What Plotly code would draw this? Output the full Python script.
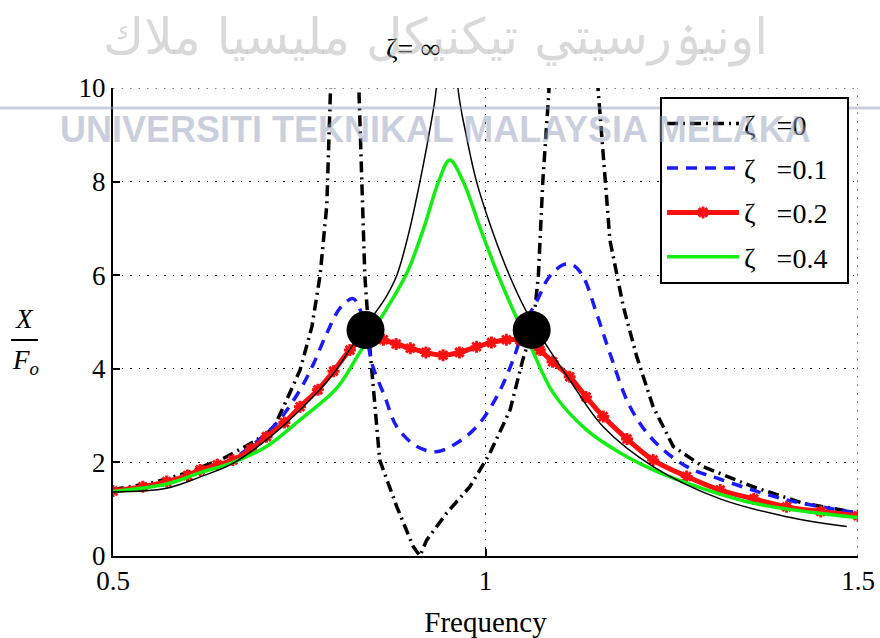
import plotly.graph_objects as go

# ---- data ----
# zeta = 0 (undamped absorber)
x_z0 = [0.50, 0.55, 0.60, 0.65, 0.69, 0.715, 0.733, 0.751, 0.767, 0.778, 0.787, 0.793, 0.800, 0.812,
        0.822, 0.830, 0.838, 0.845, 0.858, 0.881, 0.903, 0.912, 0.921, 0.948, 0.979, 1.006, 1.033,
        1.050, 1.064, 1.071, 1.077, 1.085, 1.095, 1.118, 1.140, 1.151, 1.160, 1.167, 1.185, 1.203,
        1.225, 1.252, 1.292, 1.359, 1.426, 1.50]
y_z0 = [1.42, 1.55, 1.78, 2.10, 2.45, 2.72, 3.33, 3.97, 4.90, 6.00, 7.50, 10.0, 14.0, 40.0,
        16.0, 10.0, 6.00, 4.40, 2.05, 1.05, 0.20, 0.00, 0.34, 0.92, 1.48, 2.20, 3.12,
        4.19, 4.90, 6.00, 8.03, 9.90, 14.0, 40.0, 14.0, 10.0, 8.03, 6.75, 5.33, 4.26,
        3.19, 2.34, 1.91, 1.48, 1.13, 0.92]

# zeta = 0.1
x_z1 = [0.50, 0.572, 0.617, 0.661, 0.697, 0.724, 0.751, 0.769, 0.787, 0.805, 0.822, 0.832, 0.842,
        0.849, 0.865, 0.881, 0.908, 0.934, 0.961, 0.988, 1.015, 1.037, 1.055, 1.069, 1.085, 1.104,
        1.117, 1.131, 1.149, 1.167, 1.194, 1.225, 1.270, 1.315, 1.404, 1.50]
y_z1 = [1.40, 1.57, 1.80, 2.08, 2.50, 2.92, 3.55, 4.10, 4.76, 5.30, 5.50, 5.25, 4.55,
        4.04, 3.40, 2.76, 2.34, 2.23, 2.41, 2.76, 3.40, 4.19, 5.04, 5.45, 5.95, 6.22,
        6.22, 5.97, 5.19, 4.33, 3.19, 2.48, 1.91, 1.64, 1.20, 0.92]

# zeta = 0.2
x_z2 = [0.50, 0.54, 0.572, 0.60, 0.617, 0.64, 0.661, 0.685, 0.706, 0.73, 0.751, 0.775, 0.796, 0.818,
        0.839, 0.85, 0.863, 0.88, 0.899, 0.92, 0.943, 0.965, 0.988, 1.008, 1.028, 1.046, 1.064,
        1.073, 1.09, 1.113, 1.135, 1.158, 1.19, 1.225, 1.27, 1.315, 1.36, 1.404, 1.45, 1.50]
y_z2 = [1.39, 1.48, 1.59, 1.72, 1.84, 1.95, 2.05, 2.28, 2.55, 2.85, 3.19, 3.55, 3.95, 4.40,
        4.70, 4.68, 4.62, 4.53, 4.44, 4.35, 4.29, 4.35, 4.47, 4.56, 4.62, 4.62, 4.55,
        4.40, 4.15, 3.83, 3.40, 2.98, 2.50, 2.05, 1.70, 1.41, 1.22, 1.05, 0.95, 0.86]

# zeta = 0.4
x_z4 = [0.50, 0.572, 0.617, 0.661, 0.706, 0.751, 0.800, 0.830, 0.861, 0.880, 0.896, 0.917, 0.937,
        0.952, 0.970, 0.993, 1.017, 1.042, 1.060, 1.091, 1.136, 1.181, 1.225, 1.270, 1.359, 1.50]
y_z4 = [1.38, 1.54, 1.78, 2.00, 2.34, 2.91, 3.58, 4.32, 5.12, 5.62, 6.10, 7.00, 8.00,
        8.46, 8.00, 7.00, 6.00, 5.08, 4.50, 3.48, 2.69, 2.20, 1.84, 1.56, 1.13, 0.82]

# zeta = infinity
x_zinf = [0.50, 0.572, 0.617, 0.661, 0.706, 0.751, 0.796, 0.818, 0.850, 0.867, 0.881, 0.897, 0.912,
          0.924, 0.934, 0.942, 0.948, 0.955, 0.963, 0.974, 0.988, 1.008, 1.032, 1.055, 1.080,
          1.113, 1.158, 1.225, 1.315, 1.404, 1.485]
y_zinf = [1.37, 1.45, 1.69, 1.98, 2.48, 3.12, 3.90, 4.42, 5.15, 5.55, 6.00, 6.90, 8.00,
          9.00, 10.0, 13.0, 16.0, 13.0, 10.0, 9.00, 8.00, 7.00, 6.00, 5.22, 4.55,
          3.76, 2.76, 1.91, 1.22, 0.84, 0.63]

# fixed points
x_fixed = [0.839, 1.062]
y_fixed = [4.83, 4.83]

x_ticks = [0.5, 1, 1.5]
x_ticklabels = ["0.5", "1", "1.5"]
y_ticks = [0, 2, 4, 6, 8, 10]

SERIF = "Liberation Serif"
NB = "\u00a0"
GRID_DASH = "1.5px,7px"


def legend_name(value):
    return "ζ" + NB * 3 + "=" + value + NB * 2


fig = go.Figure()

fig.add_trace(go.Scatter(x=x_z0, y=y_z0, mode="lines", name=legend_name("0"),
                         legendgroup="a",
                         line=dict(color="black", width=3.5, dash="11px,5px,2px,5px")))
fig.add_trace(go.Scatter(x=x_z1, y=y_z1, mode="lines", name=legend_name("0.1"),
                         legendgroup="b", line_shape="spline",
                         line=dict(color="#1a1aff", width=3.5, dash="11px,8px")))
fig.add_trace(go.Scatter(x=x_z2, y=y_z2, mode="lines+markers", name=legend_name("0.2"),
                         legendgroup="c", line_shape="spline",
                         line=dict(color="#ff1010", width=5),
                         marker=dict(symbol="asterisk-open", size=10, color="#ff1010",
                                     line=dict(color="#ff1010", width=3))))
fig.add_trace(go.Scatter(x=x_z4, y=y_z4, mode="lines", name=legend_name("0.4"),
                         legendgroup="d", line_shape="spline",
                         line=dict(color="#11ee11", width=3.5)))
fig.add_trace(go.Scatter(x=x_zinf, y=y_zinf, mode="lines", showlegend=False,
                         line_shape="spline", line=dict(color="black", width=1.5)))
fig.add_trace(go.Scatter(x=x_fixed, y=y_fixed, mode="markers", showlegend=False,
                         marker=dict(color="black", size=38)))

fig.update_layout(
    width=880, height=638,
    margin=dict(l=113, r=22, t=88, b=82),
    paper_bgcolor="white", plot_bgcolor="white",
    font=dict(family=SERIF, size=27, color="black"),
    showlegend=True,
    legend=dict(x=(660 - 113) / 745, y=0.981, xanchor="left", yanchor="top",
                bordercolor="black", borderwidth=2, bgcolor="white",
                font=dict(family=SERIF, size=28),
                traceorder="grouped", tracegroupgap=5, itemwidth=72),
    xaxis=dict(range=[0.5, 1.5], tickvals=x_ticks, ticktext=x_ticklabels, automargin=False,
               showline=True, linecolor="black", linewidth=2, ticks="inside", ticklen=7,
               tickcolor="black", tickwidth=1.5,
               showgrid=True, gridcolor="black", griddash=GRID_DASH, gridwidth=1.2,
               zeroline=False, tickfont=dict(family=SERIF, size=27),
               title=dict(text="Frequency", font=dict(family=SERIF, size=29), standoff=16)),
    yaxis=dict(range=[0, 10], tickvals=y_ticks, automargin=False,
               showline=True, linecolor="black", linewidth=2, ticks="inside", ticklen=7,
               tickcolor="black", tickwidth=1.5,
               showgrid=True, gridcolor="black", griddash=GRID_DASH, gridwidth=1.2,
               zeroline=False, tickfont=dict(family=SERIF, size=27)),
)

# dotted frame lines at the top (y=10) and right (x=1.5) grid positions
fig.add_shape(type="line", xref="paper", yref="y", x0=0, x1=1, y0=10, y1=10, layer="below",
              line=dict(color="black", width=1.2, dash=GRID_DASH))
fig.add_shape(type="line", xref="x", yref="paper", x0=1.5, x1=1.5, y0=0, y1=1, layer="below",
              line=dict(color="black", width=1.2, dash=GRID_DASH))

# y-axis label as fraction
fig.add_annotation(xref="paper", yref="paper", x=(24 - 113) / 745, y=(556 - 319) / 468, text="<i>X</i>",
                   showarrow=False, font=dict(family=SERIF, size=27), xanchor="center", yanchor="middle")
fig.add_annotation(xref="paper", yref="paper", x=(25 - 113) / 745, y=(556 - 362) / 468,
                   text="<i>F<sub>o</sub></i>",
                   showarrow=False, font=dict(family=SERIF, size=27), xanchor="center", yanchor="middle")
fig.add_shape(type="line", xref="paper", yref="paper",
              x0=(11 - 113) / 745, x1=(38 - 113) / 745, y0=(556 - 340) / 468, y1=(556 - 340) / 468,
              line=dict(color="black", width=2))

# zeta = infinity label
fig.add_annotation(xref="paper", yref="paper", x=(413 - 113) / 745, y=(556 - 48) / 468,
                   text="ζ=" + NB + "∞",
                   showarrow=False, font=dict(family=SERIF, size=28), xanchor="center", yanchor="middle")

# watermark
fig.add_annotation(xref="paper", yref="paper", x=(435 - 113) / 745, y=(556 - 38) / 468,
                   text="اونيۏرسيتي تيكنيكل مليسيا ملاك", showarrow=False,
                   font=dict(family="DejaVu Sans", size=50, color="rgba(170,170,170,0.45)"),
                   xanchor="center", yanchor="middle")
fig.add_shape(type="line", xref="paper", yref="paper",
              x0=-113 / 745, x1=(880 - 113) / 745, y0=(556 - 108) / 468, y1=(556 - 108) / 468,
              line=dict(color="rgba(150,160,185,0.5)", width=3))
fig.add_annotation(xref="paper", yref="paper", x=(435 - 113) / 745, y=(556 - 129) / 468,
                   text="UNIVERSITI TEKNIKAL MALAYSIA MELAKA", showarrow=False,
                   font=dict(family="Liberation Sans", size=36, color="rgba(150,160,190,0.5)",
                             weight="bold"),
                   xanchor="center", yanchor="middle")

fig.write_html("out.html")
